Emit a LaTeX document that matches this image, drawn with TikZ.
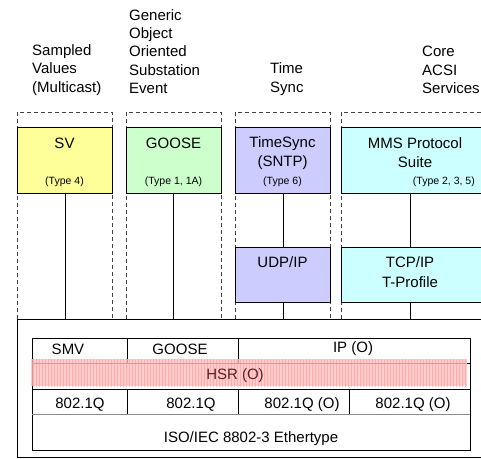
\documentclass[tikz,border=0pt]{standalone}
\usepackage{fontspec}
\setmainfont{Liberation Sans}
\usetikzlibrary{patterns}
\definecolor{svyel}{HTML}{FFFF99}
\definecolor{gsgreen}{HTML}{CCFFCC}
\definecolor{tslav}{HTML}{CCCCFF}
\definecolor{mmscyan}{HTML}{CCFFFF}
\definecolor{hsrtext}{HTML}{5A1E2A}
\begin{document}
\begin{tikzpicture}[x=1pt,y=-1pt,
  hdr/.style={align=left,inner sep=0pt,font=\fontsize{15}{18.3}\selectfont},
  big/.style={inner sep=0pt,font=\fontsize{15}{18}\selectfont},
  small/.style={inner sep=0pt,font=\fontsize{10.5}{12}\selectfont},
  pbox/.style={draw=black,line width=0.9pt,rectangle,inner sep=0pt,anchor=north west},
  col/.style={draw=black!75,line width=0.7pt,dash pattern=on 4pt off 3pt},
  conn/.style={draw=black,line width=1pt}]
\useasboundingbox (0,0) rectangle (481,458);
\clip (0,0) rectangle (481,458);
% header labels
\node[hdr,anchor=west] (h1) at (32,70) {Sampled\\Values\\(Multicast)};
\node[hdr,anchor=west] (h2) at (129,51.5) {Generic\\Object\\Oriented\\Substation\\Event};
\node[hdr,anchor=west] (h3) at (270,79) {Time\\Sync};
\node[hdr,anchor=west] (h4) at (422,70) {Core\\ACSI\\Services};
% dashed columns
\draw[col] (17,319) -- (17,112) -- (112,112) -- (112,319);
\draw[col] (126,319) -- (126,112) -- (221,112) -- (221,319);
\draw[col] (235,319) -- (235,112) -- (330,112) -- (330,319);
\draw[col] (341,319) -- (341,112) -- (495,112);
% big stack box
\node[pbox,minimum width=480pt,minimum height=138pt] (stack) at (17,319) {};
% protocol boxes
\node[pbox,fill=svyel,minimum width=95pt,minimum height=66pt] (sv) at (17,127) {};
\node[pbox,fill=gsgreen,minimum width=95pt,minimum height=66pt] (goose) at (126,127) {};
\node[pbox,fill=tslav,minimum width=95pt,minimum height=66pt] (ts) at (235,127) {};
\node[pbox,fill=mmscyan,minimum width=146pt,minimum height=66pt] (mms) at (341,127) {};
\node[pbox,fill=tslav,minimum width=95pt,minimum height=55pt] (udp) at (235,247) {};
\node[pbox,fill=mmscyan,minimum width=146pt,minimum height=55pt] (tcp) at (341,247) {};
% box texts
\node[big] (tsv) at (64.5,143) {SV};
\node[small] (tsv2) at (64.5,182) {(Type 4)};
\node[big] (tgo) at (173.5,143) {GOOSE};
\node[small] (tgo2) at (173.5,182) {(Type 1, 1A)};
\node[big,align=center,font=\fontsize{15}{19.5}\selectfont] (tts) at (282.5,153) {TimeSync\\(SNTP)};
\node[small] (tts2) at (282.5,182) {(Type 6)};
\node[big,align=center,font=\fontsize{15}{19.5}\selectfont] (tmms) at (415,152.5) {MMS Protocol\\Suite};
\node[small,anchor=east] (tmms2) at (475,182) {(Type 2, 3, 5)};
\node[big] (tudp) at (282.5,262) {UDP/IP};
\node[big,align=center,font=\fontsize{15}{20}\selectfont] (ttcp) at (410,272) {TCP/IP\\T-Profile};
% connectors
\coordinate (c1) at (65,319);
\coordinate (c2) at (173,319);
\coordinate (c3) at (283,319);
\coordinate (c4) at (410,319);
\draw[conn] (sv.south -| c1) -- (c1);
\draw[conn] (goose.south -| c2) -- (c2);
\draw[conn] (ts.south -| c3) -- (udp.north -| c3);
\draw[conn] (udp.south -| c3) -- (c3);
\draw[conn] (mms.south -| c4) -- (tcp.north -| c4);
\draw[conn] (tcp.south -| c4) -- (c4);
% table
\node[pbox,minimum width=438pt,minimum height=112pt] (tbl) at (32,338) {};
\draw[line width=0.9pt] (32,363) -- (470,363);
\draw[line width=0.9pt] (32,389) -- (470,389);
\draw[line width=0.9pt,black!45] (32,414) -- (470,414);
\draw[line width=0.9pt] (127,338) -- (127,363);
\draw[line width=0.9pt] (238,338) -- (238,363);
\draw[line width=0.9pt] (127,389) -- (127,414);
\draw[line width=0.9pt] (238,389) -- (238,414);
\draw[line width=0.9pt] (349,389) -- (349,414);
% HSR band
\fill[red!25,opacity=0.8] (31,359) rectangle (467,386);
\fill[pattern=vertical lines,pattern color=red!40,opacity=0.6] (31,359) rectangle (467,386);
\node[big,text=hsrtext] (hsr) at (235,376) {HSR (O)};
% table texts
\node[big] (smv) at (68,349) {SMV};
\node[big] (tg) at (180,349) {GOOSE};
\node[big] (ip) at (353,349) {IP (O)};
\node[big] (q1) at (80,405) {802.1Q};
\node[big] (q2) at (191,405) {802.1Q};
\node[big] (q3) at (302,405) {802.1Q (O)};
\node[big] (q4) at (413,405) {802.1Q (O)};
\node[big] (eth) at (251,439) {ISO/IEC 8802-3 Ethertype};
\end{tikzpicture}
\end{document}
